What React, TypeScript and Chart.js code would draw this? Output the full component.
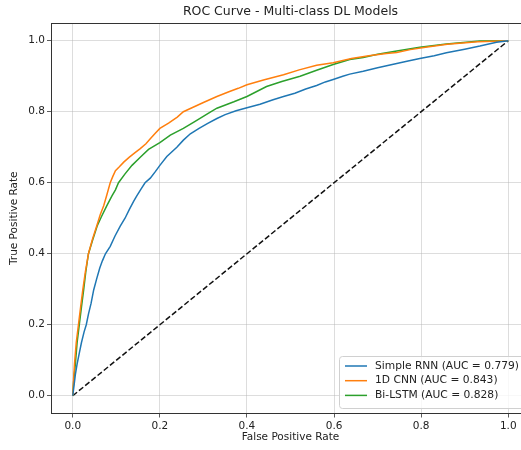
import React, { useEffect, useRef } from "react";
import { Chart, registerables } from "chart.js";

Chart.register(...registerables);

const TITLE = "ROC Curve - Multi-class DL Models";
const X_LABEL = "False Positive Rate";
const Y_LABEL = "True Positive Rate";
const TICKS = [0, 0.2, 0.4, 0.6, 0.8, 1.0];

const rnnLabel = "Simple RNN (AUC = 0.779)";
const rnnFpr = [0, 0.003, 0.006, 0.01, 0.015, 0.02, 0.026, 0.031, 0.036, 0.042, 0.048, 0.055, 0.062, 0.068, 0.075, 0.086, 0.097, 0.109, 0.12, 0.13, 0.14, 0.147, 0.157, 0.166, 0.178, 0.19, 0.2, 0.216, 0.239, 0.254, 0.27, 0.29, 0.31, 0.331, 0.35, 0.375, 0.4, 0.43, 0.46, 0.484, 0.51, 0.535, 0.56, 0.58, 0.598, 0.62, 0.636, 0.667, 0.7, 0.744, 0.77, 0.797, 0.83, 0.858, 0.9, 0.935, 0.973, 1];
const rnnTpr = [0, 0.03, 0.06, 0.09, 0.12, 0.15, 0.18, 0.2, 0.23, 0.26, 0.298, 0.33, 0.36, 0.38, 0.4, 0.421, 0.45, 0.478, 0.5, 0.525, 0.548, 0.563, 0.583, 0.6, 0.613, 0.632, 0.649, 0.674, 0.7, 0.72, 0.738, 0.753, 0.767, 0.781, 0.792, 0.803, 0.811, 0.821, 0.834, 0.843, 0.852, 0.864, 0.874, 0.884, 0.891, 0.9, 0.906, 0.914, 0.924, 0.936, 0.943, 0.95, 0.958, 0.966, 0.976, 0.985, 0.996, 1];

const cnnLabel = "1D CNN (AUC = 0.843)";
const cnnFpr = [0, 0.002, 0.004, 0.008, 0.013, 0.018, 0.023, 0.029, 0.036, 0.045, 0.055, 0.063, 0.071, 0.078, 0.086, 0.092, 0.098, 0.107, 0.117, 0.13, 0.143, 0.155, 0.168, 0.178, 0.19, 0.2, 0.22, 0.24, 0.254, 0.275, 0.3, 0.331, 0.36, 0.38, 0.4, 0.44, 0.484, 0.52, 0.56, 0.598, 0.64, 0.68, 0.72, 0.744, 0.775, 0.81, 0.86, 0.93, 1];
const cnnTpr = [0, 0.05, 0.09, 0.15, 0.2, 0.25, 0.298, 0.35, 0.4, 0.44, 0.478, 0.51, 0.535, 0.565, 0.6, 0.618, 0.634, 0.645, 0.658, 0.672, 0.685, 0.696, 0.71, 0.724, 0.74, 0.753, 0.768, 0.785, 0.8, 0.812, 0.826, 0.843, 0.857, 0.866, 0.876, 0.89, 0.904, 0.918, 0.931, 0.938, 0.95, 0.958, 0.964, 0.967, 0.975, 0.982, 0.99, 0.997, 1];

const lstmLabel = "Bi-LSTM (AUC = 0.828)";
const lstmFpr = [0, 0.002, 0.006, 0.01, 0.015, 0.02, 0.025, 0.03, 0.036, 0.046, 0.056, 0.066, 0.078, 0.09, 0.098, 0.105, 0.12, 0.136, 0.155, 0.174, 0.2, 0.224, 0.254, 0.28, 0.31, 0.331, 0.37, 0.4, 0.445, 0.48, 0.522, 0.56, 0.598, 0.636, 0.667, 0.7, 0.744, 0.797, 0.858, 0.935, 1];
const lstmTpr = [0, 0.04, 0.09, 0.15, 0.2, 0.25, 0.298, 0.35, 0.4, 0.44, 0.478, 0.505, 0.535, 0.563, 0.58, 0.6, 0.625, 0.649, 0.672, 0.694, 0.713, 0.734, 0.753, 0.772, 0.795, 0.81, 0.828, 0.843, 0.871, 0.885, 0.9, 0.917, 0.933, 0.947, 0.953, 0.962, 0.971, 0.982, 0.991, 0.999, 1];

const diagX = [0, 1];
const diagY = [0, 1];

const COLORS = { rnn: "#1f77b4", cnn: "#ff7f0e", lstm: "#2ca02c" };
const FONT = "'DejaVu Sans', sans-serif";

const pts = (xs: number[], ys: number[]) => xs.map((x, i) => ({ x, y: ys[i] }));

const decorPlugin = {
  id: "decor",
  afterDraw(chart: any) {
    const { ctx, chartArea } = chart;
    const { left, right, top, bottom } = chartArea;
    ctx.save();
    // top & right spines
    ctx.strokeStyle = "#333";
    ctx.lineWidth = 1;
    ctx.beginPath();
    ctx.moveTo(left, top + 0.5);
    ctx.lineTo(right, top + 0.5);
    ctx.moveTo(right - 0.5, top);
    ctx.lineTo(right - 0.5, bottom);
    ctx.stroke();
    // title
    ctx.fillStyle = "#222";
    ctx.font = `12.5px ${FONT}`;
    ctx.textAlign = "center";
    ctx.textBaseline = "middle";
    ctx.fillText(TITLE, (left + right) / 2, 12);
    // legend
    const items = [
      { label: rnnLabel, color: COLORS.rnn },
      { label: cnnLabel, color: COLORS.cnn },
      { label: lstmLabel, color: COLORS.lstm },
    ];
    const bx = 339.5, by = 356.5, bw = right - 5 - bx, bh = bottom - 5 - by;
    ctx.fillStyle = "rgba(255,255,255,0.8)";
    ctx.strokeStyle = "#d0d0d0";
    ctx.beginPath();
    const r = 3;
    ctx.moveTo(bx + r, by);
    ctx.lineTo(bx + bw - r, by);
    ctx.quadraticCurveTo(bx + bw, by, bx + bw, by + r);
    ctx.lineTo(bx + bw, by + bh - r);
    ctx.quadraticCurveTo(bx + bw, by + bh, bx + bw - r, by + bh);
    ctx.lineTo(bx + r, by + bh);
    ctx.quadraticCurveTo(bx, by + bh, bx, by + bh - r);
    ctx.lineTo(bx, by + r);
    ctx.quadraticCurveTo(bx, by, bx + r, by);
    ctx.fill();
    ctx.stroke();
    ctx.font = `10.7px ${FONT}`;
    ctx.textAlign = "left";
    items.forEach((it, i) => {
      const y = 366 + i * 14.7;
      ctx.strokeStyle = it.color;
      ctx.lineWidth = 1.5;
      ctx.beginPath();
      ctx.moveTo(345, y);
      ctx.lineTo(367, y);
      ctx.stroke();
      ctx.fillStyle = "#222";
      ctx.fillText(it.label, 375, y);
    });
    ctx.restore();
  },
};

const axisCommon = (title: string, titlePad: any) => ({
  type: "linear" as const,
  min: -0.05,
  max: 1.05,
  afterBuildTicks: (axis: any) => {
    axis.ticks = TICKS.map((v) => ({ value: v }));
  },
  ticks: {
    callback: (v: any) => Number(v).toFixed(1),
    font: { family: FONT, size: 10.5 },
    color: "#222",
    padding: 2,
  },
  grid: {
    color: "rgba(176,176,176,0.55)",
    lineWidth: 0.8,
    tickColor: "#333",
    tickLength: 4,
    drawTicks: true,
  },
  border: { display: true, color: "#333", width: 1 },
  title: {
    display: true,
    text: title,
    font: { family: FONT, size: 10.5 },
    color: "#222",
    padding: titlePad,
  },
});

export default function App() {
  const ref = useRef<HTMLCanvasElement | null>(null);
  useEffect(() => {
    document.body.style.margin = "0";
    const canvas = ref.current!;
    const chart = new Chart(canvas, {
      type: "line",
      data: {
        datasets: [
          { label: rnnLabel, data: pts(rnnFpr, rnnTpr), borderColor: COLORS.rnn, borderWidth: 1.5, pointRadius: 0, fill: false, tension: 0 },
          { label: cnnLabel, data: pts(cnnFpr, cnnTpr), borderColor: COLORS.cnn, borderWidth: 1.5, pointRadius: 0, fill: false, tension: 0 },
          { label: lstmLabel, data: pts(lstmFpr, lstmTpr), borderColor: COLORS.lstm, borderWidth: 1.5, pointRadius: 0, fill: false, tension: 0 },
          { label: "diag", data: pts(diagX, diagY), borderColor: "#111", borderWidth: 1.5, borderDash: [5.5, 2.5], pointRadius: 0, fill: false },
        ],
      },
      options: {
        animation: false,
        responsive: false,
        devicePixelRatio: 1,
        layout: { padding: { top: 23, right: 10, left: 0, bottom: 0 } },
        plugins: { legend: { display: false }, title: { display: false }, tooltip: { enabled: false } },
        scales: {
          x: { ...axisCommon(X_LABEL, { top: 2, bottom: 6 }), afterFit: (s: any) => { s.height = 36.5; } },
          y: { ...axisCommon(Y_LABEL, { top: 8, bottom: 0 }), afterFit: (s: any) => { s.width = 51; } },
        },
      } as any,
      plugins: [decorPlugin],
    });
    return () => chart.destroy();
  }, []);
  return (
    <div style={{ width: 521, height: 450, overflow: "hidden", background: "#fff" }}>
      <canvas ref={ref} width={540} height={450} style={{ width: 540, height: 450, display: "block" }} />
    </div>
  );
}
